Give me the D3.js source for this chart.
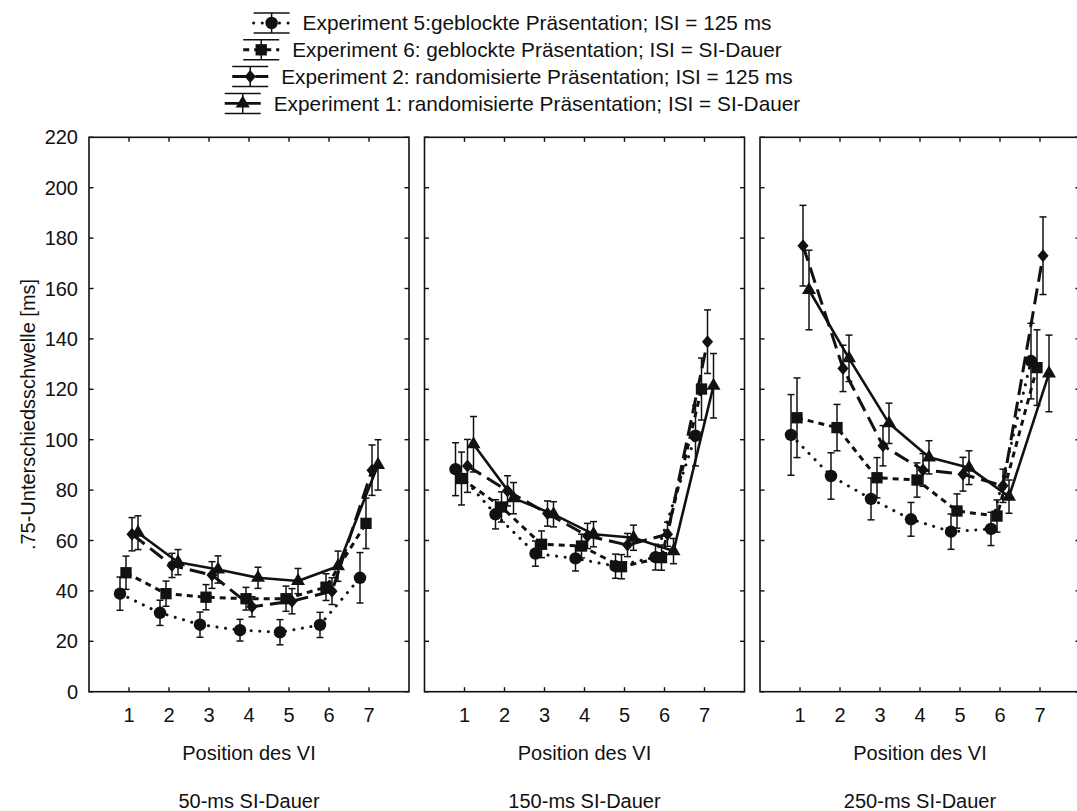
<!DOCTYPE html>
<html>
<head>
<meta charset="utf-8">
<script src="https://cdn.jsdelivr.net/npm/d3@7/dist/d3.min.js"></script>
<style>
  html, body { margin: 0; padding: 0; background: #fff; }
  svg { display: block; font-family: "Liberation Sans", Arial, sans-serif; }
</style>
</head>
<body>
<svg id="chart" width="1077" height="811"></svg>
<script>
// Positions of the deviating interval (VI) within the sequence
const positions = [1, 2, 3, 4, 5, 6, 7];
const panelTitles = ["50-ms SI-Dauer", "150-ms SI-Dauer", "250-ms SI-Dauer"];
const yTicks = [0, 20, 40, 60, 80, 100, 120, 140, 160, 180, 200, 220];

const legendLabels = [
  "Experiment 5:geblockte Präsentation; ISI = 125 ms",
  "Experiment 6: geblockte Präsentation; ISI = SI-Dauer",
  "Experiment 2: randomisierte Präsentation; ISI = 125 ms",
  "Experiment 1: randomisierte Präsentation; ISI = SI-Dauer"
];

// Thresholds per panel (50 / 150 / 250 ms SI duration), one row per panel
const exp5Mean = [
  [38.9, 31.3, 26.6, 24.4, 23.6, 26.5, 45.2],
  [88.3, 70.4, 54.8, 52.9, 49.8, 53.4, 101.6],
  [101.9, 85.6, 76.5, 68.4, 63.5, 64.6, 131.2]
];
const exp5Err = [
  [6.6, 5.0, 5.0, 4.3, 5.0, 5.0, 10.0],
  [10.5, 5.8, 5.0, 5.0, 4.8, 5.1, 12.0],
  [16.0, 9.2, 8.3, 6.7, 7.0, 6.6, 15.0]
];
const exp6Mean = [
  [47.2, 38.9, 37.5, 36.9, 36.9, 41.5, 66.8],
  [84.6, 73.3, 58.5, 57.8, 49.6, 53.2, 120.1],
  [108.7, 104.8, 84.9, 84.0, 71.7, 69.7, 128.6]
];
const exp6Err = [
  [6.6, 5.0, 5.0, 4.5, 5.0, 5.3, 10.0],
  [10.5, 6.0, 5.3, 4.7, 4.8, 5.0, 12.3],
  [15.8, 9.2, 8.0, 6.8, 6.8, 6.4, 15.0]
];
const exp2Mean = [
  [62.5, 50.1, 46.3, 33.7, 35.9, 39.9, 87.9],
  [89.6, 79.7, 70.7, 61.8, 58.2, 62.5, 138.9],
  [177.0, 128.3, 97.6, 88.0, 86.3, 81.7, 173.0]
];
const exp2Err = [
  [6.6, 4.8, 5.3, 4.0, 5.0, 5.3, 10.0],
  [10.5, 6.0, 5.0, 5.0, 4.6, 4.8, 12.6],
  [16.0, 9.2, 8.0, 6.5, 6.7, 6.6, 15.4]
];
const exp1Mean = [
  [63.1, 51.4, 48.5, 45.2, 43.9, 49.8, 90.0],
  [98.2, 76.8, 70.4, 62.5, 61.1, 55.8, 121.4],
  [159.4, 132.3, 106.5, 93.0, 88.9, 77.4, 126.3]
];
const exp1Err = [
  [6.7, 5.0, 5.4, 4.2, 5.0, 6.0, 10.0],
  [11.0, 6.2, 5.0, 5.0, 5.0, 5.0, 12.8],
  [15.8, 9.2, 8.0, 6.6, 6.7, 6.6, 15.2]
];

// Series styling: marker, dash pattern and a small horizontal offset
const series = [
  { label: legendLabels[0], mean: exp5Mean, err: exp5Err, marker: "circle",   dash: "0.1,8.5", cap: "round", width: 3,   dx: -9 },
  { label: legendLabels[1], mean: exp6Mean, err: exp6Err, marker: "square",   dash: "6,5",     cap: "butt",  width: 3,   dx: -3 },
  { label: legendLabels[2], mean: exp2Mean, err: exp2Err, marker: "diamond",  dash: "16,7",    cap: "butt",  width: 3,   dx: 3 },
  { label: legendLabels[3], mean: exp1Mean, err: exp1Err, marker: "triangle", dash: null,      cap: "butt",  width: 2.6, dx: 9 }
];

const svg = d3.select("#chart");
const ink = "#111";

const panelLeft = [89, 424.5, 760];
const panelW = 320;
const plotTop = 137.3, plotBottom = 691.7;

const y = d3.scaleLinear().domain([0, 220]).range([plotBottom, plotTop]);

// a slightly taller-than-wide diamond
const tallDiamond = {
  draw(ctx, size) {
    const h = Math.sqrt(size) * 0.78, w = h * 0.85;
    ctx.moveTo(0, -h); ctx.lineTo(w, 0); ctx.lineTo(0, h); ctx.lineTo(-w, 0); ctx.closePath();
  }
};

const markerSymbols = {
  circle: d3.symbol(d3.symbolCircle, 122),
  square: d3.symbol(d3.symbolSquare, 128),
  diamond: d3.symbol(tallDiamond, 70),
  triangle: d3.symbol(d3.symbolTriangle, 85)
};

function drawMarker(g, type, cx, cy) {
  g.append("path")
    .attr("d", markerSymbols[type]())
    .attr("transform", `translate(${cx},${cy})`)
    .attr("fill", ink);
}

panelLeft.forEach((x0, p) => {
  const x = d3.scaleLinear().domain([0, 8]).range([x0, x0 + panelW]);
  const g = svg.append("g");

  // frame
  g.append("rect")
    .attr("x", x0).attr("y", plotTop)
    .attr("width", panelW).attr("height", plotBottom - plotTop)
    .attr("fill", "none").attr("stroke", ink).attr("stroke-width", 1.6);

  // inward ticks on every side
  const tickLen = 4.5;
  positions.forEach(v => {
    g.append("line").attr("x1", x(v)).attr("x2", x(v)).attr("y1", plotBottom).attr("y2", plotBottom - tickLen)
      .attr("stroke", ink).attr("stroke-width", 1.4);
    g.append("line").attr("x1", x(v)).attr("x2", x(v)).attr("y1", plotTop).attr("y2", plotTop + tickLen)
      .attr("stroke", ink).attr("stroke-width", 1.4);
  });
  yTicks.forEach(v => {
    g.append("line").attr("x1", x0).attr("x2", x0 + tickLen).attr("y1", y(v)).attr("y2", y(v))
      .attr("stroke", ink).attr("stroke-width", 1.4);
    g.append("line").attr("x1", x0 + panelW).attr("x2", x0 + panelW - tickLen).attr("y1", y(v)).attr("y2", y(v))
      .attr("stroke", ink).attr("stroke-width", 1.4);
  });

  // x tick labels
  g.selectAll("text.xt").data(positions).enter().append("text")
    .attr("x", d => x(d)).attr("y", 722)
    .attr("text-anchor", "middle").attr("font-size", 20).attr("fill", ink)
    .text(d => d);

  g.append("text")
    .attr("x", x(4)).attr("y", 760)
    .attr("text-anchor", "middle").attr("font-size", 20).attr("fill", ink)
    .text("Position des VI");

  g.append("text")
    .attr("x", x(4)).attr("y", 808)
    .attr("text-anchor", "middle").attr("font-size", 20).attr("fill", ink)
    .text(panelTitles[p]);

  // series: lines first, then error bars and markers
  series.forEach(s => {
    const pts = positions.map((pos, i) => ({ x: x(pos) + s.dx, m: s.mean[p][i], e: s.err[p][i] }));
    const line = d3.line().x(d => d.x).y(d => y(d.m));
    g.append("path")
      .attr("d", line(pts))
      .attr("fill", "none").attr("stroke", ink)
      .attr("stroke-width", s.width)
      .attr("stroke-linecap", s.cap)
      .attr("stroke-linejoin", "round")
      .attr("stroke-dasharray", s.dash);
  });
  series.forEach(s => {
    positions.forEach((pos, i) => {
      const cx = x(pos) + s.dx;
      const m = s.mean[p][i], e = s.err[p][i];
      g.append("line").attr("x1", cx).attr("x2", cx).attr("y1", y(m + e)).attr("y2", y(m - e))
        .attr("stroke", ink).attr("stroke-width", 1.5);
      [m + e, m - e].forEach(v => {
        g.append("line").attr("x1", cx - 3.5).attr("x2", cx + 3.5).attr("y1", y(v)).attr("y2", y(v))
          .attr("stroke", ink).attr("stroke-width", 1.5);
      });
      drawMarker(g, s.marker, cx, y(m));
    });
  });
});

// y axis labels (left panel only)
const ya = svg.append("g");
yTicks.forEach(v => {
  ya.append("text")
    .attr("x", 78).attr("y", y(v)).attr("dy", "0.35em")
    .attr("text-anchor", "end").attr("font-size", 20).attr("fill", ink)
    .text(v);
});
ya.append("text")
  .attr("transform", `translate(35,${(plotTop + plotBottom) / 2}) rotate(-90)`)
  .attr("text-anchor", "middle").attr("font-size", 20).attr("fill", ink)
  .text(".75-Unterschiedsschwelle [ms]");

// legend: centred labels, sample glyph to the left of each label
const legend = svg.append("g");
const legendCx = 537;
const rowY = [23, 49.8, 76.6, 103.4];
const sampleW = 36;
series.forEach((s, i) => {
  const row = legend.append("g");
  const t = row.append("text")
    .attr("x", legendCx).attr("y", rowY[i]).attr("dy", "0.35em")
    .attr("text-anchor", "middle")
    .attr("font-size", 20.8).attr("fill", ink)
    .text(s.label);
  const tw = t.node().getComputedTextLength();
  const cx = legendCx - tw / 2 - 31, cy = rowY[i];
  const left = cx - sampleW / 2;
  row.append("line").attr("x1", left).attr("x2", left + sampleW).attr("y1", cy).attr("y2", cy)
    .attr("stroke", ink).attr("stroke-width", s.width)
    .attr("stroke-linecap", s.cap).attr("stroke-dasharray", s.dash);
  [cy - 10, cy + 10].forEach(v => {
    row.append("line").attr("x1", left).attr("x2", left + sampleW).attr("y1", v).attr("y2", v)
      .attr("stroke", ink).attr("stroke-width", 1.5);
  });
  row.append("line").attr("x1", cx).attr("x2", cx).attr("y1", cy - 10).attr("y2", cy + 10)
    .attr("stroke", ink).attr("stroke-width", 1.5);
  drawMarker(row, s.marker, cx, cy);
});
</script>
</body>
</html>
